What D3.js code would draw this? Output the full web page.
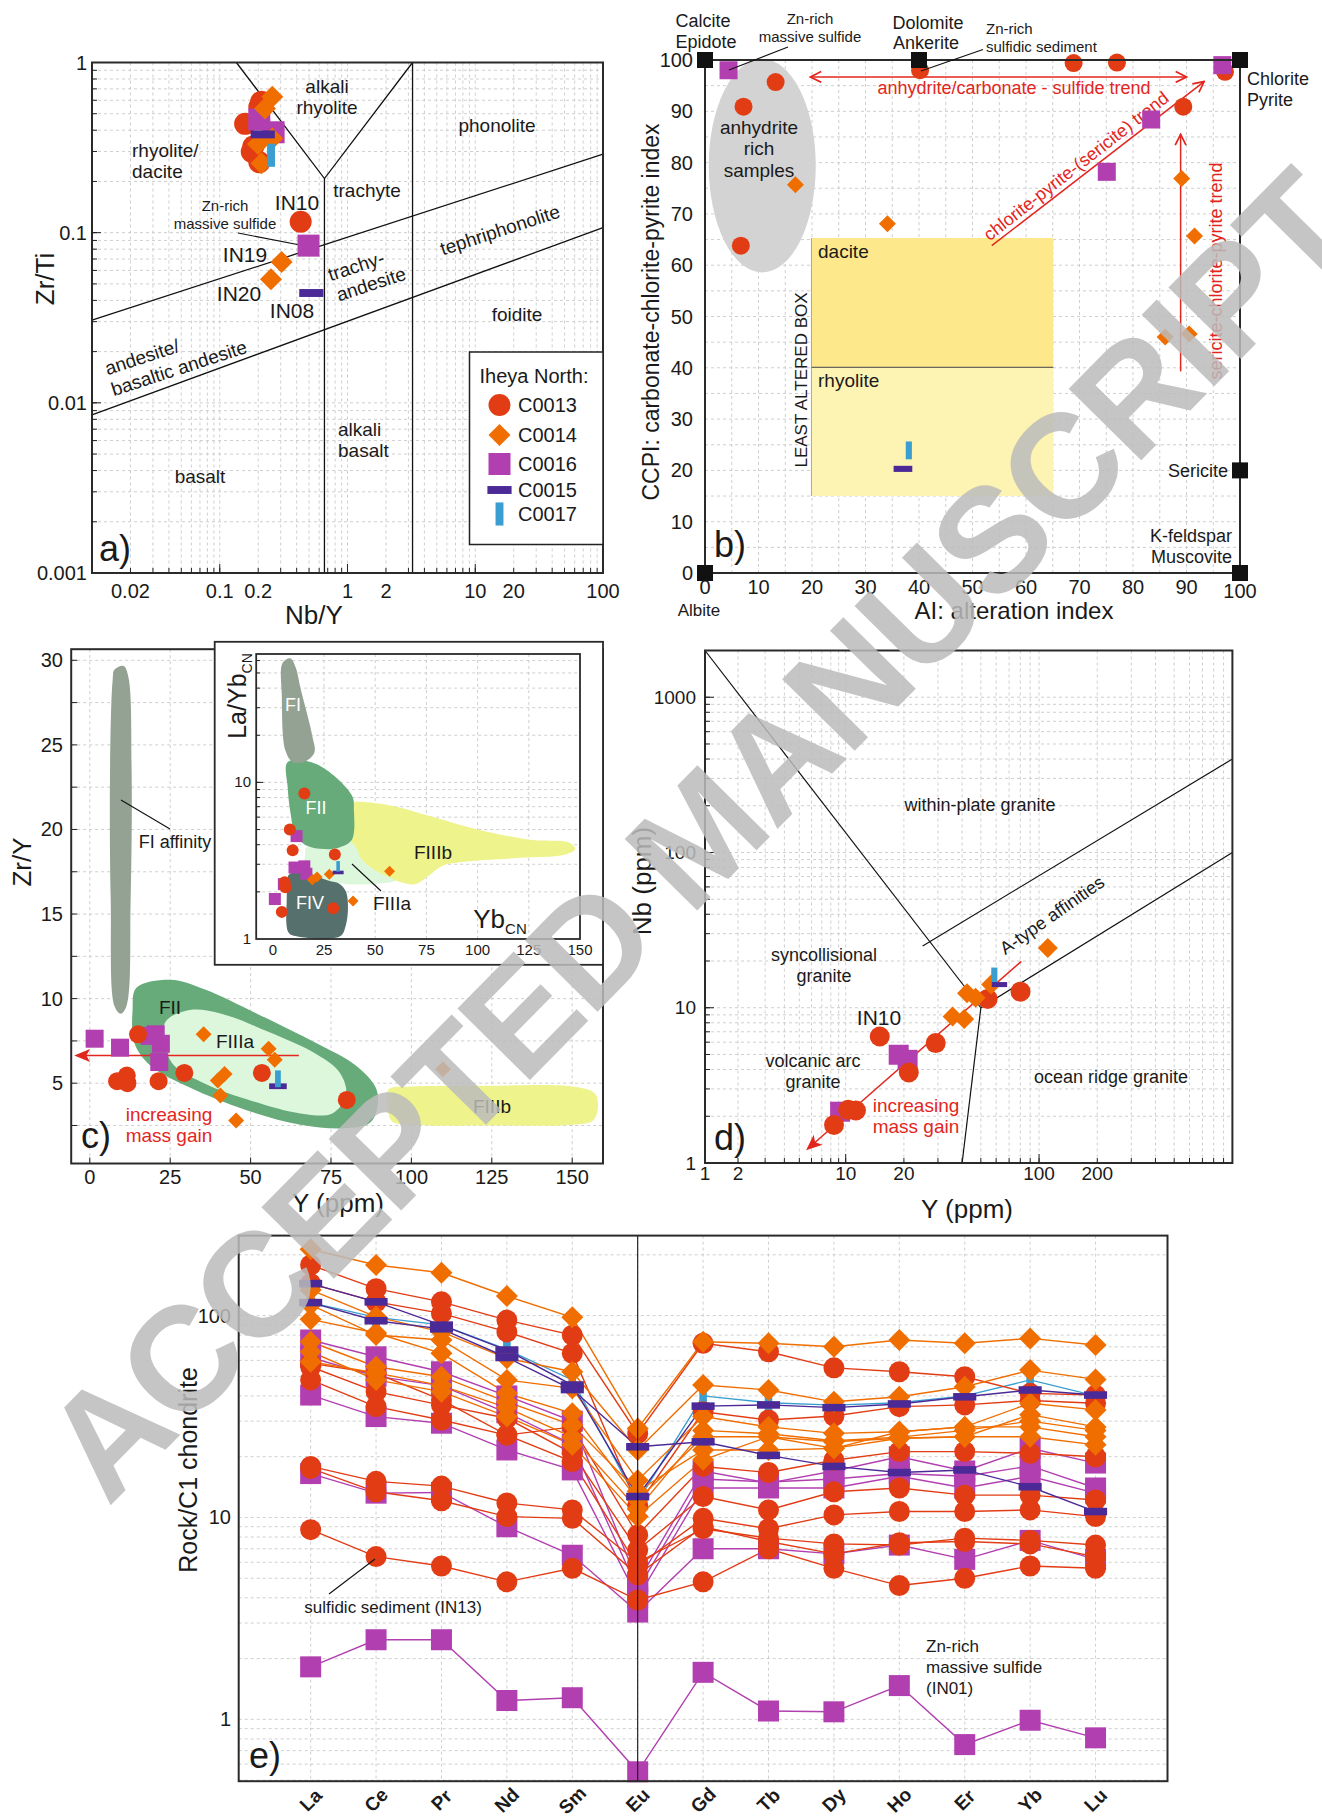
<!DOCTYPE html>
<html><head><meta charset="utf-8">
<script src="https://cdn.jsdelivr.net/npm/d3@7"></script>
<style>body{margin:0;background:#fff}svg{display:block}</style>
</head><body>
<script>
// ---------------- sample groups ----------------
const groups = ["C0013", "C0014", "C0016", "C0015", "C0017"];
const groupColors = ["#e23c14", "#f06e00", "#b23fb0", "#4b2a97", "#3a9fd0"];
const groupShapes = ["circle", "diamond", "square", "hbar", "vbar"];

// ---------------- a) Nb/Y vs Zr/Ti ----------------
const aC0013 = [[0.211,0.588],[0.204,0.547],[0.158,0.436],[0.183,0.321],[0.178,0.299],[0.204,0.259],[0.43,0.116]];
const aC0014 = [[0.258,0.629],[0.226,0.536],[0.199,0.332],[0.258,0.357],[0.212,0.256],[0.305,0.0673],[0.252,0.0533]];
const aC0016 = [[0.204,0.463],[0.264,0.389],[0.495,0.0839]];
const aC0015 = [[0.217,0.378],[0.521,0.0442]];
const aC0017 = [[0.252,0.285]];
const aBoundaries = [
  [[0.135,1],[0.66,0.208],[3.23,1]],
  [[0.66,0.208],[0.66,0.001]],
  [[3.23,1],[3.23,0.001]],
  [[0.01,0.0306],[100,0.289]],
  [[0.01,0.0085],[100,0.107]]
];
const aXTicks = [0.02,0.1,0.2,1,2,10,20,100];
const aYTicks = [1,0.1,0.01,0.001];

// ---------------- b) alteration box plot ----------------
const bC0013 = [[13.2,95.7],[7.2,90.9],[6.7,63.8],[40.2,98.0],[68.9,99.4],[77.0,99.5],[89.4,90.9],[97.2,97.7]];
const bC0014 = [[16.9,75.7],[34.1,68.1],[89.1,76.9],[91.5,65.7],[86.0,46.0],[90.5,46.6]];
const bC0016 = [[4.4,98.0],[75.1,78.2],[83.4,88.4],[96.7,99.0]];
const bC0015 = [[37.0,20.3]];
const bC0017 = [[38.1,23.9]];
const bEndMembers = [[0,100],[40,100],[100,100],[100,20],[100,0],[0,0]];
const bTicks = [0,10,20,30,40,50,60,70,80,90,100];

// ---------------- c) Y vs Zr/Y ----------------
const cC0013 = [[15.0,7.89],[8.5,5.12],[11.5,5.45],[11.7,5.0],[21.4,5.12],[29.4,5.61],[53.5,5.61],[79.9,4.01]];
const cC0014 = [[35.4,7.89],[55.6,7.04],[57.5,6.38],[41.9,5.55],[39.8,5.16],[40.6,4.27],[45.5,2.79],[109.8,5.83]];
const cC0016 = [[1.5,7.63],[9.4,7.1],[20.5,7.89],[18.6,7.8],[22.1,7.33],[21.6,6.25]];
const cC0015 = [[58.5,4.82]];
const cC0017 = [[58.5,5.26]];
const cFI = [[7.7,29.45],[10.5,29.67],[12.0,29.02],[13.0,23.55],[12.7,15.89],[11.4,9.55],[9.6,9.11],[7.7,9.55],[6.5,15.89],[6.3,23.55],[7.1,28.8]];
const cFII = [[14.5,10.64],[25.0,11.12],[36.0,10.53],[52.0,9.11],[70.5,7.36],[82.7,6.05],[88.9,4.74],[89.5,3.64],[87.1,2.66],[79.1,2.33],[65.5,2.55],[48.3,3.43],[31.1,4.74],[18.8,6.05],[13.9,7.36],[13.3,9.33]];
const cFIIIa = [[23.7,8.67],[31.1,9.33],[40.9,9.11],[55.7,8.02],[70.5,6.71],[77.8,5.61],[79.7,4.30],[75.4,3.21],[65.5,3.21],[48.3,4.08],[36.0,4.96],[26.2,6.05],[23.1,7.36]];
const cFIIIb = [[93,4.65],[100,4.8],[125,4.85],[150,4.8],[157,4.4],[158,3.6],[156.5,2.8],[150,2.55],[125,2.5],[100,2.55],[94,2.75],[92.5,3.7]];
const cXTicks = [0,25,50,75,100,125,150];
const cYTicks = [5,10,15,20,25,30];
const cArrow = [[65,6.64],[-4.0,6.64]];

// inset: Yb_CN vs La/Yb_CN
const iC0013 = [[15.4,8.5],[8.3,5.0],[9.7,3.69],[30.3,3.46],[5.8,2.30],[6.2,2.14],[4.4,1.49],[29.5,1.57]];
const iC0014 = [[19.3,2.39],[21.6,2.49],[27.6,2.59],[39.2,1.75],[57.0,2.71]];
const iC0016 = [[11.6,4.54],[10.6,2.86],[15.4,2.91],[16.4,2.61],[5.4,2.24],[1.0,1.80]];
const iC0015 = [[31.9,2.66]];
const iC0017 = [[31.9,2.91]];
const iFI = [[4.8,58],[8.7,61.9],[11.2,54.1],[13.5,40.1],[19.3,19.8],[20.3,15.5],[15.4,13.5],[9.7,13.5],[6.2,15.9],[4.4,35.9]];
const iFII = [[7.3,13.5],[21.2,13.1],[38.6,8.27],[39.6,6.65],[38.6,4.30],[32.8,3.86],[25.1,3.75],[16.4,3.96],[11.2,4.54],[8.7,6.3],[7.3,9.22]];
const iFIIIb = [[39.6,7.41],[44.4,7.5],[59.8,7.02],[79.2,5.96],[98.5,5.06],[125.5,4.3],[144.8,4.12],[147.7,3.75],[142.9,3.46],[117.8,3.28],[92.7,3.1],[83,2.94],[75.3,2.49],[69.5,2.24],[59.8,2.36],[52.1,2.64],[44.4,3.1],[38.6,3.86],[38.6,5.96]];
const iFIIIa = [[16.4,3.86],[32.8,3.9],[38.6,4.12],[44.4,3.1],[52.1,2.64],[59.8,2.36],[48.3,2.24],[36.7,2.24],[27,2.3],[17.4,2.36],[15.1,2.78],[15.8,3.46]];
const iFIV = [[7.7,2.56],[13.5,2.71],[27,2.36],[32.8,2.24],[35.7,2.01],[36.7,1.61],[35.7,1.23],[32.8,1.04],[11.6,1.04],[7.7,1.1],[6.8,1.8],[7.3,2.36]];
const iXTicks = [0,25,50,75,100,125,150];

// ---------------- d) Y vs Nb (granite discrimination) ----------------
const dC0013 = [[15,6.53],[29.2,5.92],[21.2,3.83],[11.3,2.18],[10.3,2.2],[8.4,1.76],[54.2,11.4],[80.2,12.7]];
const dC0014 = [[42.4,12.4],[47,11.6],[35.7,8.79],[41,8.45],[56.5,14.1],[111,24.3]];
const dC0016 = [[18.8,4.98],[20.9,4.62],[9.2,2.14]];
const dC0015 = [[62.4,14.1]];
const dC0017 = [[58.7,15.9]];
const dBoundaries = [
  [[1,2000],[50,10]],
  [[50,10],[40,1]],
  [[50,10],[1000,100]],
  [[25,25],[1000,400]]
];
const dArrow = [[80.9,19.9],[5.7,1.24]];
const dXTicks = [1,2,10,20,100,200];
const dYTicks = [1,10,100,1000];

// ---------------- e) chondrite-normalised REE ----------------
const ree = ["La","Ce","Pr","Nd","Sm","Eu","Gd","Tb","Dy","Ho","Er","Yb","Lu"];
const eC0013 = [
  [178,136,117,95,80,26,72.9,66.2,55.1,52.7,49.8,41.2,40.4],
  [144,117,102.5,83,65,11.5,33.4,30.4,31.8,35.4,36.1,38,36.8],
  [58,51.8,38.2,25.6,28.1,8.2,17.9,16.7,19.2,21.2,21.2,20.8,20.0],
  [55.8,42,36,31,20.8,6.9,12.7,10.9,13.4,14.0,12.9,12.9,12.2],
  [48,35.4,30.4,25.6,18.9,5.75,9.9,8.8,10.3,10.7,10.7,10.9,10.1],
  [17.9,15.1,14.3,11.8,10.9,6.0,8.8,7.9,7.4,7.3,7.9,7.7,7.3],
  [17.5,13.4,12.1,10.1,9.9,5.2,9.0,7.6,6.6,7.5,7.6,7.4,6.4],
  [8.7,6.4,5.75,4.8,5.6,3.9,4.8,7.0,5.6,4.6,5.0,5.75,5.6]
];
const eC0014 = [
  [213,178,163,125,98,27.6,74.2,72.9,70.1,75.7,72.9,77.1,71.5],
  [134,98.6,83,61.4,52.7,21.6,45.3,42.8,37.4,39.6,44.4,53.7,48.3],
  [113,80.1,75.7,48,43.6,15.3,31.6,28.1,26.1,26.6,28.1,36.8,34.1],
  [95.8,82,65,41.2,32.8,12.2,25.1,25.1,23.7,24.7,25.1,32.3,28.1],
  [74.2,55.8,49.8,37.4,28.7,13.5,21.6,21.6,22.0,26.6,28.1,28.1,25.1],
  [66.2,48,42,31.6,22.9,10.1,19.3,25.1,22.0,24.7,25.1,25.1,22.9],
  [59.1,52,45,35,25,11,27,26,24,25,27,30,27]
];
const eC0016 = [
  [75.7,62.5,52.7,40,30,4.8,17,14.8,17,20,17,22,18.6],
  [62,50,45,33,23,4.4,15.5,15,15.5,16.5,16,18,14],
  [40.4,31.6,29.3,21.6,17.2,4.0,14,14,14,16,14,16,13.2],
  [16.5,13.2,13.3,9.0,6.5,3.4,7.0,7.0,6.6,7.3,6.2,7.7,6.2],
  [1.82,2.48,2.48,1.24,1.28,0.55,1.71,1.10,1.09,1.47,0.75,0.99,0.81]
];
const eC0015 = [
  [144,117,89.7,67.5,45.3,12.7,35.6,36.1,35,36.5,39.6,42.8,40.4],
  [116,94.3,86,62,43,22.4,23.7,20.3,17.9,16.7,17.2,14.2,10.7]
];
const eC0017 = [
  [116,98,90,68,48,12,40,37,36,37,40,48,40]
];
const eYTicks = [1,10,100];

// ---------------- drawing helpers ----------------
const FONT = '"Liberation Sans", Arial, Helvetica, sans-serif';
const INK = "#1a1a1a";
const GRID = "#c9c9c9";
const TREND = "#e3261d";

const svg = d3.select("body").append("svg")
  .attr("width", 1322).attr("height", 1818)
  .style("font-family", FONT);
svg.append("rect").attr("width", 1322).attr("height", 1818).attr("fill", "#fff");

const defs = svg.append("defs");
defs.append("marker").attr("id", "openHead").attr("viewBox", "0 0 12 12")
  .attr("refX", 11).attr("refY", 6).attr("markerWidth", 13).attr("markerHeight", 13)
  .attr("markerUnits", "userSpaceOnUse").attr("orient", "auto-start-reverse")
  .append("path").attr("d", "M1,1 L11,6 L1,11").attr("fill", "none")
  .attr("stroke", TREND).attr("stroke-width", 1.6);
defs.append("marker").attr("id", "solidHead").attr("viewBox", "0 0 12 12")
  .attr("refX", 10).attr("refY", 6).attr("markerWidth", 16).attr("markerHeight", 16)
  .attr("markerUnits", "userSpaceOnUse").attr("orient", "auto")
  .append("path").attr("d", "M0,1 L12,6 L0,11 L3,6 Z").attr("fill", TREND);

function txt(g, x, y, s, o = {}) {
  const t = g.append("text").attr("x", x).attr("y", y).text(s)
    .attr("font-size", o.size || 18).attr("fill", o.fill || INK)
    .attr("text-anchor", o.anchor || "middle");
  if (o.dy) t.attr("dy", o.dy);
  if (o.weight) t.attr("font-weight", o.weight);
  if (o.rotate !== undefined) t.attr("transform", `rotate(${o.rotate},${x},${y})`);
  return t;
}
function logVals(lo, hi) {
  const out = [];
  for (let e = Math.floor(Math.log10(lo)) - 1; e <= Math.ceil(Math.log10(hi)); e++)
    for (let k = 1; k < 10; k++) {
      const v = +(k * Math.pow(10, e)).toPrecision(6);
      if (v > lo * 1.0001 && v < hi * 0.9999) out.push(v);
    }
  return out;
}
function vgrid(g, xs, vals, y0, y1) {
  g.append("g").selectAll("line").data(vals).join("line")
    .attr("x1", d => xs(d)).attr("x2", d => xs(d)).attr("y1", y0).attr("y2", y1)
    .attr("stroke", GRID).attr("stroke-width", 0.9).attr("stroke-dasharray", "3,3");
}
function hgrid(g, ys, vals, x0, x1) {
  g.append("g").selectAll("line").data(vals).join("line")
    .attr("y1", d => ys(d)).attr("y2", d => ys(d)).attr("x1", x0).attr("x2", x1)
    .attr("stroke", GRID).attr("stroke-width", 0.9).attr("stroke-dasharray", "3,3");
}
function xTickMarks(g, xs, vals, yb, len) {
  g.append("g").selectAll("line").data(vals).join("line")
    .attr("x1", d => xs(d)).attr("x2", d => xs(d)).attr("y1", yb).attr("y2", yb - len)
    .attr("stroke", "#222").attr("stroke-width", 1);
}
function yTickMarks(g, ys, vals, xl, len) {
  g.append("g").selectAll("line").data(vals).join("line")
    .attr("y1", d => ys(d)).attr("y2", d => ys(d)).attr("x1", xl).attr("x2", xl + len)
    .attr("stroke", "#222").attr("stroke-width", 1);
}
function mark(g, shape, x, y, s, color) {
  if (shape === "circle") {
    g.append("circle").attr("cx", x).attr("cy", y).attr("r", s / 2).attr("fill", color);
  } else if (shape === "diamond") {
    const h = s / 2;
    g.append("path").attr("d", `M${x},${y - h}L${x + h},${y}L${x},${y + h}L${x - h},${y}Z`).attr("fill", color);
  } else if (shape === "square") {
    g.append("rect").attr("x", x - s / 2).attr("y", y - s / 2).attr("width", s).attr("height", s).attr("fill", color);
  } else if (shape === "hbar") {
    const w = s * 1.1, h = s * 0.36;
    g.append("rect").attr("x", x - w / 2).attr("y", y - h / 2).attr("width", w).attr("height", h).attr("fill", color);
  } else {
    const w = s * 0.36, h = s * 1.05;
    g.append("rect").attr("x", x - w / 2).attr("y", y - h / 2).attr("width", w).attr("height", h).attr("fill", color);
  }
}
function points(g, data, gi, s, xs, ys) {
  data.forEach(d => mark(g, groupShapes[gi], xs(d[0]), ys(d[1]), s, groupColors[gi]));
}
function frame(g, x0, y0, x1, y1, w = 2) {
  g.append("rect").attr("x", x0).attr("y", y0).attr("width", x1 - x0).attr("height", y1 - y0)
    .attr("fill", "none").attr("stroke", "#2a2a2a").attr("stroke-width", w);
}
function fmt(v) { return String(v); }

// ======================= panel a =======================
{
  const g = svg.append("g");
  const x = d3.scaleLog().domain([0.01, 100]).range([92, 603]);
  const y = d3.scaleLog().domain([0.001, 1]).range([573, 62.5]);
  vgrid(g, x, logVals(0.01, 100), 62.5, 573);
  hgrid(g, y, logVals(0.001, 1), 92, 603);
  const ln = d3.line().x(d => x(d[0])).y(d => y(d[1]));
  aBoundaries.forEach(b => g.append("path").attr("d", ln(b)).attr("fill", "none").attr("stroke", "#111").attr("stroke-width", 1.3));

  // field names
  txt(g, 327, 93, "alkali", {size: 19});
  txt(g, 327, 114, "rhyolite", {size: 19});
  txt(g, 497, 132, "phonolite", {size: 19});
  txt(g, 132, 157, "rhyolite/", {size: 19, anchor: "start"});
  txt(g, 132, 178, "dacite", {size: 19, anchor: "start"});
  txt(g, 367, 197, "trachyte", {size: 19});
  txt(g, 500, 230, "tephriphonolite", {size: 19, dy: "0.35em", rotate: -18});
  txt(g, 356, 266, "trachy-", {size: 19, dy: "0.35em", rotate: -18});
  txt(g, 371, 284, "andesite", {size: 19, dy: "0.35em", rotate: -18});
  txt(g, 517, 321, "foidite", {size: 19});
  txt(g, 142, 357, "andesite/", {size: 19, dy: "0.35em", rotate: -18});
  txt(g, 179, 368, "basaltic andesite", {size: 19, dy: "0.35em", rotate: -18});
  txt(g, 338, 436, "alkali", {size: 19, anchor: "start"});
  txt(g, 338, 457, "basalt", {size: 19, anchor: "start"});
  txt(g, 200, 483, "basalt", {size: 19});
  txt(g, 225, 211, "Zn-rich", {size: 15});
  txt(g, 225, 229, "massive sulfide", {size: 15});
  g.append("line").attr("x1", 238).attr("y1", 233).attr("x2", 300).attr("y2", 245).attr("stroke", "#111").attr("stroke-width", 1.1);
  txt(g, 297, 210, "IN10", {size: 21});
  txt(g, 245, 262, "IN19", {size: 21});
  txt(g, 239, 301, "IN20", {size: 21});
  txt(g, 292, 318, "IN08", {size: 21});

  // samples
  points(g, aC0013, 0, 22, x, y);
  points(g, aC0016, 2, 22, x, y);
  points(g, aC0014, 1, 22, x, y);
  points(g, aC0015, 3, 22, x, y);
  points(g, aC0017, 4, 22, x, y);

  frame(g, 92, 62.5, 603, 573);
  xTickMarks(g, x, logVals(0.01, 100), 573, 5);
  xTickMarks(g, x, [0.1, 1, 10], 573, 9);
  yTickMarks(g, y, logVals(0.001, 1), 92, 5);
  yTickMarks(g, y, [0.01, 0.1], 92, 9);
  aXTicks.forEach(v => txt(g, x(v), 598, fmt(v), {size: 20}));
  aYTicks.forEach(v => txt(g, 87, y(v), fmt(v), {size: 20, anchor: "end", dy: "0.35em"}));
  txt(g, 45, 279, "Zr/Ti", {size: 26, rotate: -90, dy: "0.35em"});
  txt(g, 314, 624, "Nb/Y", {size: 26});
  txt(g, 99, 561, "a)", {size: 36, anchor: "start"});

  // legend
  const lg = g.append("g");
  lg.append("rect").attr("x", 469.5).attr("y", 352).attr("width", 133.5).attr("height", 192.5)
    .attr("fill", "#fff").attr("stroke", "#222").attr("stroke-width", 1.5);
  txt(lg, 534, 383, "Iheya North:", {size: 20});
  const rows = [405, 435, 464, 490, 514];
  groups.forEach((name, i) => {
    mark(lg, groupShapes[i], 499.5, rows[i], 22, groupColors[i]);
    txt(lg, 518, rows[i], name, {size: 20, anchor: "start", dy: "0.36em"});
  });
}

// ======================= panel b =======================
{
  const g = svg.append("g");
  const x = d3.scaleLinear().domain([0, 100]).range([705, 1240]);
  const y = d3.scaleLinear().domain([0, 100]).range([573, 60]);
  const five = d3.range(5, 100, 5);
  vgrid(g, x, five, 60, 573);
  hgrid(g, y, five, 705, 1240);

  // anhydrite-rich field and least altered box
  g.append("ellipse").attr("cx", x(10.7)).attr("cy", y(79.4))
    .attr("rx", x(10) - x(0)).attr("ry", y(0) - y(20.8)).attr("fill", "#d3d3d3");
  g.append("rect").attr("x", x(19.9)).attr("y", y(65.3)).attr("width", x(65.1) - x(19.9))
    .attr("height", y(40.1) - y(65.3)).attr("fill", "#fde98c");
  g.append("rect").attr("x", x(19.9)).attr("y", y(40.1)).attr("width", x(65.1) - x(19.9))
    .attr("height", y(15) - y(40.1)).attr("fill", "#fdf3b3");
  g.append("line").attr("x1", x(19.9)).attr("x2", x(65.1)).attr("y1", y(40.1)).attr("y2", y(40.1))
    .attr("stroke", "#444").attr("stroke-width", 1);
  g.append("line").attr("x1", x(19.9)).attr("x2", x(19.9)).attr("y1", y(65.3)).attr("y2", y(15))
    .attr("stroke", "#777").attr("stroke-width", 0.6);
  txt(g, 818, 258, "dacite", {size: 19, anchor: "start"});
  txt(g, 818, 387, "rhyolite", {size: 19, anchor: "start"});
  txt(g, 801, 380, "LEAST ALTERED BOX", {size: 17, rotate: -90, dy: "0.35em"});
  txt(g, 759, 134, "anhydrite", {size: 19});
  txt(g, 759, 155, "rich", {size: 19});
  txt(g, 759, 177, "samples", {size: 19});

  // trends
  g.append("line").attr("x1", x(19.7)).attr("x2", x(90)).attr("y1", y(96.7)).attr("y2", y(96.7))
    .attr("stroke", TREND).attr("stroke-width", 1.5)
    .attr("marker-start", "url(#openHead)").attr("marker-end", "url(#openHead)");
  g.append("line").attr("x1", x(53.6)).attr("y1", y(63.8)).attr("x2", x(93.3)).attr("y2", y(95.8))
    .attr("stroke", TREND).attr("stroke-width", 1.5).attr("marker-end", "url(#openHead)");
  g.append("line").attr("x1", x(88.9)).attr("y1", y(39.3)).attr("x2", x(88.9)).attr("y2", y(85.5))
    .attr("stroke", TREND).attr("stroke-width", 1.5).attr("marker-end", "url(#openHead)");
  txt(g, 1014, 88, "anhydrite/carbonate - sulfide trend", {size: 18, fill: TREND, dy: "0.35em"});
  txt(g, 1076, 166, "chlorite-pyrite-(sericite) trend", {size: 18, fill: TREND, dy: "0.35em", rotate: -38});
  txt(g, 1216, 271, "sericite-chlorite-pyrite trend", {size: 18, fill: TREND, dy: "0.35em", rotate: -90});

  // samples
  points(g, bC0013, 0, 18, x, y);
  points(g, bC0016, 2, 18, x, y);
  points(g, bC0014, 1, 17, x, y);
  points(g, bC0015, 3, 17, x, y);
  points(g, bC0017, 4, 17, x, y);

  frame(g, 705, 60, 1240, 573);
  bEndMembers.forEach(d => g.append("rect").attr("x", x(d[0]) - 8).attr("y", y(d[1]) - 8)
    .attr("width", 16).attr("height", 16).attr("fill", "#111"));

  bTicks.forEach(v => txt(g, 693, y(v), fmt(v), {size: 20, anchor: "end", dy: "0.35em"}));
  bTicks.forEach(v => txt(g, x(v), v === 100 ? 598 : 594, fmt(v), {size: 20}));
  txt(g, 699, 616, "Albite", {size: 17});
  txt(g, 1014, 619, "AI: alteration index", {size: 24});
  txt(g, 651, 312, "CCPI: carbonate-chlorite-pyrite index", {size: 23, rotate: -90, dy: "0.35em"});
  txt(g, 703, 27, "Calcite", {size: 18});
  txt(g, 706, 48, "Epidote", {size: 18});
  txt(g, 810, 24, "Zn-rich", {size: 15});
  txt(g, 810, 42, "massive sulfide", {size: 15});
  g.append("line").attr("x1", 788).attr("y1", 47).attr("x2", 729).attr("y2", 70).attr("stroke", "#111").attr("stroke-width", 1.1);
  txt(g, 928, 29, "Dolomite", {size: 18});
  txt(g, 926, 49, "Ankerite", {size: 18});
  txt(g, 986, 34, "Zn-rich", {size: 15, anchor: "start"});
  txt(g, 986, 52, "sulfidic sediment", {size: 15, anchor: "start"});
  g.append("line").attr("x1", 983).attr("y1", 49.5).attr("x2", 921).attr("y2", 71).attr("stroke", "#111").attr("stroke-width", 1.1);
  txt(g, 1247, 85, "Chlorite", {size: 18, anchor: "start"});
  txt(g, 1247, 106, "Pyrite", {size: 18, anchor: "start"});
  txt(g, 1228, 477, "Sericite", {size: 18, anchor: "end"});
  txt(g, 1232, 542, "K-feldspar", {size: 18, anchor: "end"});
  txt(g, 1232, 563, "Muscovite", {size: 18, anchor: "end"});
  txt(g, 714, 557, "b)", {size: 36, anchor: "start"});
}

// ======================= panel c =======================
{
  const g = svg.append("g");
  const x = d3.scaleLinear().domain([0, 150]).range([89.8, 572.2]);
  const y = d3.scaleLinear().domain([5, 30]).range([1083.2, 660.3]);
  vgrid(g, x, cXTicks, 649.2, 1163.5);
  hgrid(g, y, d3.range(2.5, 30.1, 2.5), 71.2, 603);
  const area = d3.line().x(d => x(d[0])).y(d => y(d[1])).curve(d3.curveCatmullRomClosed.alpha(0.5));
  g.append("path").attr("d", area(cFIIIb)).attr("fill", "#eef38c");
  g.append("path").attr("d", area(cFII)).attr("fill", "#66ab79");
  g.append("path").attr("d", area(cFIIIa)).attr("fill", "#ddf7dd");
  g.append("path").attr("d", area(cFI)).attr("fill", "#93a293");
  txt(g, 170, 1014, "FII", {size: 19});
  txt(g, 235, 1048, "FIIIa", {size: 19});
  txt(g, 492, 1113, "FIIIb", {size: 19});
  g.append("line").attr("x1", 121).attr("y1", 800).attr("x2", 170).attr("y2", 829).attr("stroke", "#111").attr("stroke-width", 1.1);
  txt(g, 175, 848, "FI affinity", {size: 18});

  const ln = d3.line().x(d => x(d[0])).y(d => y(d[1]));
  g.append("path").attr("d", ln(cArrow)).attr("stroke", TREND).attr("stroke-width", 1.5)
    .attr("fill", "none").attr("marker-end", "url(#solidHead)");
  txt(g, 169, 1121, "increasing", {size: 19, fill: TREND});
  txt(g, 169, 1142, "mass gain", {size: 19, fill: TREND});

  points(g, cC0016, 2, 18, x, y);
  points(g, cC0013, 0, 18, x, y);
  points(g, cC0014, 1, 16, x, y);
  points(g, cC0015, 3, 16, x, y);
  points(g, cC0017, 4, 16, x, y);

  frame(g, 71.2, 649.2, 603, 1163.5);
  xTickMarks(g, x, cXTicks, 1163.5, 6);
  yTickMarks(g, y, d3.range(2.5, 30.1, 2.5), 71.2, 6);
  cXTicks.forEach(v => txt(g, x(v), 1184, fmt(v), {size: 20}));
  cYTicks.forEach(v => txt(g, 63, y(v), fmt(v), {size: 20, anchor: "end", dy: "0.35em"}));
  txt(g, 22, 862, "Zr/Y", {size: 26, rotate: -90, dy: "0.35em"});
  txt(g, 338, 1212, "Y (ppm)", {size: 26});
  txt(g, 81, 1148, "c)", {size: 36, anchor: "start"});

  // inset
  const gi = svg.append("g");
  gi.append("rect").attr("x", 214.7).attr("y", 641.8).attr("width", 388.3).attr("height", 323)
    .attr("fill", "#fff").attr("stroke", "#2a2a2a").attr("stroke-width", 1.8);
  const xi = d3.scaleLinear().domain([0, 150]).range([272.8, 580]);
  const yi = d3.scaleLog().domain([1, 10]).range([939, 782.4]);
  vgrid(gi, xi, iXTicks.slice(1, 6), 654, 939);
  hgrid(gi, yi, logVals(1, 66), 256.2, 580);
  const iarea = d3.line().x(d => xi(d[0])).y(d => yi(d[1])).curve(d3.curveCatmullRomClosed.alpha(0.5));
  gi.append("path").attr("d", iarea(iFIIIb)).attr("fill", "#eef38c");
  gi.append("path").attr("d", iarea(iFIIIa)).attr("fill", "#ddf7dd");
  gi.append("path").attr("d", iarea(iFII)).attr("fill", "#66ab79");
  gi.append("path").attr("d", iarea(iFI)).attr("fill", "#93a293");
  gi.append("path").attr("d", iarea(iFIV)).attr("fill", "#56706d");
  txt(gi, 293, 711, "FI", {size: 18, fill: "#fff"});
  txt(gi, 316, 814, "FII", {size: 18, fill: "#fff"});
  txt(gi, 433, 859, "FIIIb", {size: 19});
  txt(gi, 310, 909, "FIV", {size: 18, fill: "#fff"});
  gi.append("line").attr("x1", 352).attr("y1", 864).attr("x2", 381).attr("y2", 891).attr("stroke", "#111").attr("stroke-width", 1.1);
  txt(gi, 392, 910, "FIIIa", {size: 19});

  points(gi, iC0016, 2, 12, xi, yi);
  points(gi, iC0013, 0, 12, xi, yi);
  points(gi, iC0014, 1, 11, xi, yi);
  points(gi, iC0015, 3, 10, xi, yi);
  points(gi, iC0017, 4, 10, xi, yi);

  frame(gi, 256.2, 654, 580, 939, 1.8);
  yTickMarks(gi, yi, logVals(1, 66), 256.2, 4);
  yTickMarks(gi, yi, [10], 256.2, 7);
  iXTicks.forEach(v => txt(gi, xi(v), 955, fmt(v), {size: 15}));
  txt(gi, 251, 782, "10", {size: 15, anchor: "end", dy: "0.35em"});
  txt(gi, 251, 939, "1", {size: 15, anchor: "end", dy: "0.35em"});
  const yl = gi.append("text").attr("transform", "translate(246,696) rotate(-90)")
    .attr("text-anchor", "middle").attr("font-size", 25).attr("fill", INK);
  yl.append("tspan").text("La/Yb");
  yl.append("tspan").text("CN").attr("font-size", 14).attr("dy", 6);
  const xl = gi.append("text").attr("x", 500).attr("y", 928)
    .attr("text-anchor", "middle").attr("font-size", 26).attr("fill", INK);
  xl.append("tspan").text("Yb");
  xl.append("tspan").text("CN").attr("font-size", 15).attr("dy", 6);
}

// ======================= panel d =======================
{
  const g = svg.append("g");
  const x = d3.scaleLog().domain([1, 2, 10, 1000]).range([705, 738, 845.7, 1232.4]);
  const y = d3.scaleLog().domain([1, 2000]).range([1163, 650.5]);
  vgrid(g, x, logVals(1, 1000), 650.5, 1163);
  hgrid(g, y, logVals(1, 2000), 705, 1232.4);
  const ln = d3.line().x(d => x(d[0])).y(d => y(d[1]));
  dBoundaries.forEach(b => g.append("path").attr("d", ln(b)).attr("fill", "none").attr("stroke", "#111").attr("stroke-width", 1.2));

  txt(g, 980, 811, "within-plate granite", {size: 18});
  txt(g, 824, 961, "syncollisional", {size: 18});
  txt(g, 824, 982, "granite", {size: 18});
  txt(g, 1052, 915, "A-type affinities", {size: 18, rotate: -35, dy: "0.35em"});
  txt(g, 879, 1025, "IN10", {size: 21});
  txt(g, 813, 1067, "volcanic arc", {size: 18});
  txt(g, 813, 1088, "granite", {size: 18});
  txt(g, 1111, 1083, "ocean ridge granite", {size: 18});

  g.append("path").attr("d", ln(dArrow)).attr("stroke", TREND).attr("stroke-width", 1.5)
    .attr("fill", "none").attr("marker-end", "url(#solidHead)");
  txt(g, 916, 1112, "increasing", {size: 19, fill: TREND});
  txt(g, 916, 1133, "mass gain", {size: 19, fill: TREND});

  points(g, dC0016, 2, 20, x, y);
  points(g, dC0013, 0, 20, x, y);
  points(g, dC0014, 1, 20, x, y);
  points(g, dC0017, 4, 17, x, y);
  points(g, dC0015, 3, 14, x, y);

  frame(g, 705, 650.5, 1232.4, 1163);
  xTickMarks(g, x, logVals(1, 1000), 1163, 5);
  xTickMarks(g, x, [10, 100], 1163, 9);
  yTickMarks(g, y, logVals(1, 2000), 705, 5);
  yTickMarks(g, y, [10, 100, 1000], 705, 9);
  dXTicks.forEach(v => txt(g, x(v), 1180, fmt(v), {size: 19}));
  dYTicks.forEach(v => txt(g, 696, y(v), fmt(v), {size: 19, anchor: "end", dy: "0.35em"}));
  txt(g, 642, 881, "Nb (ppm)", {size: 26, rotate: -90, dy: "0.35em"});
  txt(g, 967, 1218, "Y (ppm)", {size: 26});
  txt(g, 714, 1150, "d)", {size: 36, anchor: "start"});
}

// ======================= panel e =======================
{
  const g = svg.append("g");
  const x = d3.scalePoint().domain(ree).range([238.7, 1167.5]).padding(1.1);
  const y = d3.scaleLog().domain([0.494, 249]).range([1781.2, 1235.6]);
  vgrid(g, x, ree, 1235.6, 1781.2);
  hgrid(g, y, logVals(0.494, 249), 238.7, 1167.5);

  const ln = d3.line().x((d, i) => x(ree[i])).y(d => y(d));
  // lines first, then symbols (light-blue samples sit underneath the others)
  const sets = [[eC0017, 4], [eC0016, 2], [eC0013, 0], [eC0014, 1], [eC0015, 3]];
  sets.forEach(([rows, gi]) => rows.forEach(r =>
    g.append("path").attr("d", ln(r)).attr("fill", "none")
      .attr("stroke", groupColors[gi]).attr("stroke-width", 1.4)));
  const sizes = [21, 22, 21, 21, 21];
  sets.forEach(([rows, gi]) => rows.forEach(r => r.forEach((v, i) =>
    mark(g, groupShapes[gi], x(ree[i]), y(v), sizes[gi], groupColors[gi]))));

  g.append("line").attr("x1", x("Eu")).attr("x2", x("Eu")).attr("y1", 1235.6).attr("y2", 1781.2)
    .attr("stroke", "#111").attr("stroke-width", 1.1);

  g.append("line").attr("x1", 329).attr("y1", 1594).attr("x2", 375).attr("y2", 1559).attr("stroke", "#111").attr("stroke-width", 1.1);
  txt(g, 393, 1613, "sulfidic sediment (IN13)", {size: 17});
  txt(g, 926, 1652, "Zn-rich", {size: 17, anchor: "start"});
  txt(g, 926, 1673, "massive sulfide", {size: 17, anchor: "start"});
  txt(g, 926, 1694, "(IN01)", {size: 17, anchor: "start"});

  frame(g, 238.7, 1235.6, 1167.5, 1781.2);
  eYTicks.forEach(v => txt(g, 231, y(v), fmt(v), {size: 20, anchor: "end", dy: "0.35em"}));
  ree.forEach(el => txt(g, x(el), 1800, el, {size: 19, weight: "bold", rotate: -45, dy: "0.35em"}));
  txt(g, 188, 1470, "Rock/C1 chondrite", {size: 25, rotate: -90, dy: "0.35em"});
  txt(g, 249, 1768, "e)", {size: 36, anchor: "start"});
}

// ======================= manuscript stamp =======================
svg.append("text")
  .attr("transform", "translate(108,1508) rotate(-45.4)")
  .attr("font-size", 148).attr("font-weight", "bold")
  .attr("fill", "#bcbcbc").attr("opacity", 0.85)
  .attr("textLength", 1790).attr("lengthAdjust", "spacing")
  .text("ACCEPTED MANUSCRIPT");
</script>
</body></html>
